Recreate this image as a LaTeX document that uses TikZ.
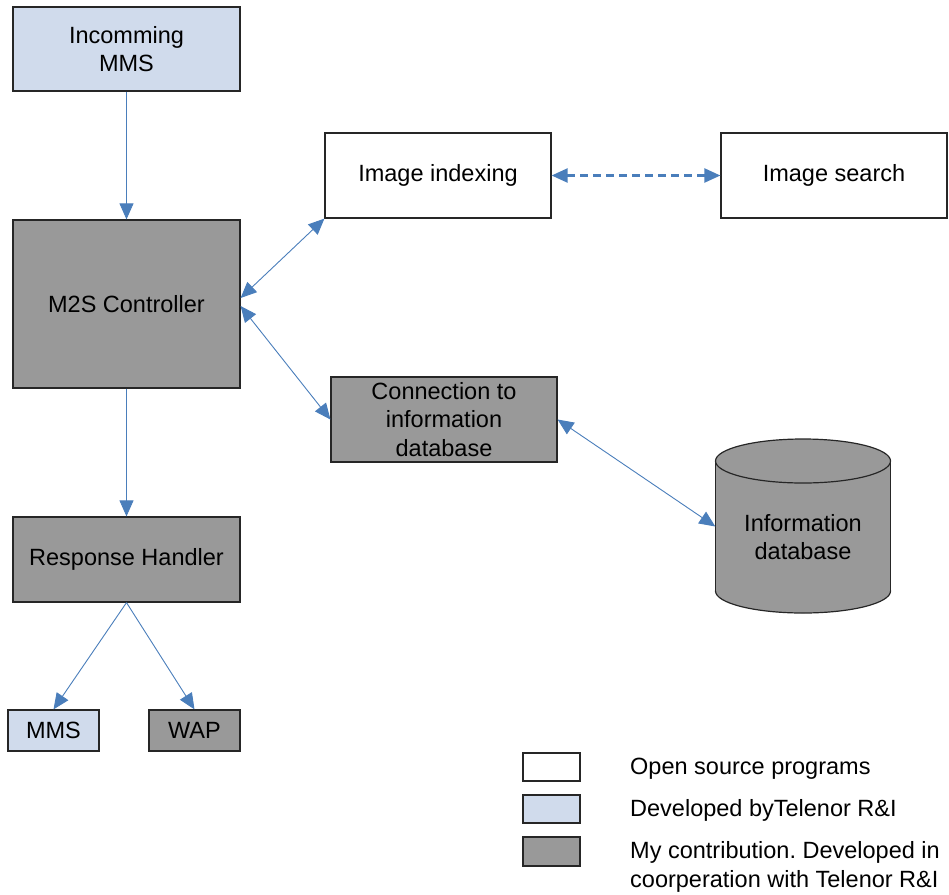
\documentclass[tikz,border=0pt]{standalone}
\usepackage{fontspec}
\setmainfont{Liberation Sans}
\usetikzlibrary{arrows.meta}
\frenchspacing
\definecolor{paleblue}{RGB}{208,219,236}
\definecolor{midgray}{RGB}{153,153,153}
\definecolor{linkblue}{RGB}{74,126,187}
\tikzset{
  block/.style={draw=black!85, line width=1.2pt, inner sep=0pt, align=center,
    font=\fontsize{23.5}{28.4}\selectfont},
  openbox/.style={block, fill=white},
  telbox/.style={block, fill=paleblue},
  mybox/.style={block, fill=midgray},
  link/.style={draw=linkblue, line width=0.9pt, -{Triangle[length=16pt,width=14pt]}},
  biglink/.style={draw=linkblue, line width=0.9pt, {Triangle[length=16pt,width=14pt]}-{Triangle[length=16pt,width=14pt]}},
  dashlink/.style={draw=linkblue, line width=2.2pt, dash pattern=on 8pt off 5pt,
    {Triangle[length=16pt,width=14pt]}-{Triangle[length=16pt,width=14pt]}},
  legtext/.style={anchor=west, align=left, inner sep=0pt, font=\fontsize{23.5}{28.4}\selectfont}
}
\begin{document}
\begin{tikzpicture}[x=1pt,y=-1pt]
\useasboundingbox (0,0) rectangle (949,894);

% main blocks
\node[telbox, minimum width=227pt, minimum height=84pt] (in) at (126.5,49) {Incomming\\MMS};
\node[mybox, minimum width=227pt, minimum height=168pt] (m2s) at (126.5,304) {M2S Controller};
\node[openbox, minimum width=226pt, minimum height=85pt] (idx) at (438,175.5) {Image indexing};
\node[openbox, minimum width=226pt, minimum height=85pt] (srch) at (834,175.5) {Image search};
\node[mybox, minimum width=226pt, minimum height=85pt] (conn) at (444,419.5) {Connection to\\information\\database};
\node[mybox, minimum width=227pt, minimum height=85pt] (rh) at (126.5,559.5) {Response Handler};
\node[telbox, minimum width=91pt, minimum height=41pt] (mms) at (53.5,730.5) {MMS};
\node[mybox, minimum width=91pt, minimum height=41pt] (wap) at (194.5,730.5) {WAP};

% database cylinder
\node[minimum width=175pt, minimum height=173pt, inner sep=0pt] (db) at (803,526.5) {};
\filldraw[fill=midgray, draw=black!85, line width=1.2pt] (803,591) ellipse[x radius=87.5, y radius=22];
\fill[midgray] (715.5,461) rectangle (890.5,591);
\draw[black!85, line width=1.2pt] (715.5,461) -- (715.5,591) (890.5,461) -- (890.5,591);
\filldraw[fill=midgray, draw=black!85, line width=1.2pt] (803,461) ellipse[x radius=87.5, y radius=22];
\node[align=center, font=\fontsize{23.5}{28.4}\selectfont] (dbtext) at (803,537) {Information\\database};

% connectors
\draw[link] (in.south) -- (m2s.north);
\draw[link] (m2s.south) -- (rh.north);
\draw[biglink] ([yshift=6pt]m2s.east) -- (idx.south west);
\draw[biglink] ([yshift=-2pt]m2s.east) -- (conn.west);
\draw[dashlink] (idx.east) -- (srch.west);
\draw[biglink] (conn.east) -- (db.west);
\draw[link] (rh.south) -- (mms.north);
\draw[link] (rh.south) -- (wap.north);

% legend
\node[openbox, minimum width=57pt, minimum height=28pt] (lg1) at (551.5,767) {};
\node[telbox, minimum width=57pt, minimum height=28pt] (lg2) at (551.5,809) {};
\node[mybox, minimum width=57pt, minimum height=29pt] (lg3) at (551.5,851.5) {};
\node[legtext] (lt1) at (630,768.5) {Open source programs};
\node[legtext] (lt2) at (630,810.5) {Developed byTelenor R\&I};
\node[legtext] (lt3) at (630,867) {My contribution. Developed in\\coorperation with Telenor R\&I};
\end{tikzpicture}
\end{document}
